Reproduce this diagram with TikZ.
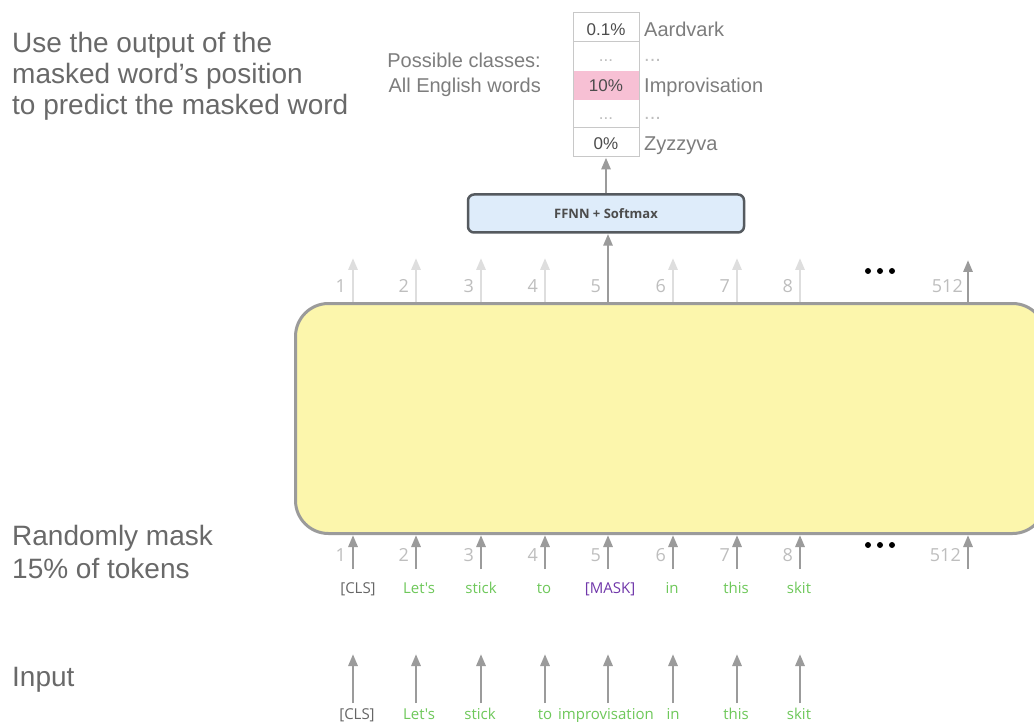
\documentclass[tikz,border=0pt]{standalone}
\usepackage{fontspec}
\setmainfont{Liberation Sans}
\newfontfamily\tokfont{Open Sans}
\usetikzlibrary{arrows.meta}
\definecolor{bigtxt}{RGB}{105,105,105}
\definecolor{midtxt}{RGB}{125,125,125}
\definecolor{arrgray}{RGB}{155,155,155}
\definecolor{faintgray}{RGB}{222,222,222}
\definecolor{numgray}{RGB}{190,190,190}
\definecolor{tokgreen}{RGB}{110,200,90}
\definecolor{tokpurple}{RGB}{112,55,170}
\definecolor{pinkcell}{RGB}{247,192,212}
\definecolor{boxyellow}{RGB}{252,246,172}
\definecolor{boxedge}{RGB}{155,155,155}
\definecolor{ffnnfill}{RGB}{222,236,250}
\definecolor{ffnnedge}{RGB}{85,90,95}
\definecolor{tbledge}{RGB}{200,200,200}
\begin{document}
\begin{tikzpicture}[x=1pt,y=-1pt,
  big/.style={font=\fontsize{28}{31}\selectfont, text=bigtxt, anchor=base west, inner sep=0pt, align=left},
  mid/.style={font=\fontsize{20}{25}\selectfont, text=midtxt, inner sep=0pt},
  pct/.style={font=\fontsize{17}{17}\selectfont, text=black!70, anchor=base, inner sep=0pt},
  arr/.style={draw=arrgray, line width=2.8pt, -{Triangle[width=9pt,length=12pt]}},
  faint/.style={arr, draw=faintgray},
  num/.style={font=\tokfont\fontsize{18}{18}\selectfont, text=numgray, anchor=base east, inner sep=0pt},
  tok/.style={font=\tokfont\fontsize{15}{15}\selectfont, anchor=base, inner sep=0pt},
  dot/.style={fill=black, draw=none}]
\useasboundingbox (0,0) rectangle (1034,722);
\clip (0,0) rectangle (1034,722);
\fill[white] (0,0) rectangle (1034,722);

% left texts
\node[big] (t1) at (12,53) {Use the output of the};
\node[big] (t2) at (12,84) {masked word's position};
\node[big] (t3) at (12,115) {to predict the masked word};
\node[big] (t4) at (12,545) {Randomly mask};
\node[big] (t5) at (12,578) {15\% of tokens};
\node[big] (t6) at (12,686) {Input};

% output table
\fill[pinkcell] (573,71) rectangle (639,100);
\node[draw=tbledge, line width=1pt, minimum width=66pt, minimum height=144pt, inner sep=0pt] (tbl) at (606,85) {};
\draw[tbledge, line width=1pt] (573,42) -- (639,42);
\draw[tbledge, line width=1pt] (573,128) -- (639,128);
\node[pct] (p1) at (606,36) {0.1\%};
\node[pct, text=numgray] (p2) at (606,62) {...};
\node[pct] (p3) at (606,92) {10\%};
\node[pct, text=numgray] (p4) at (606,120) {...};
\node[pct] (p5) at (606,150) {0\%};
\node[mid, anchor=base west] (w1) at (644,37) {Aardvark};
\node[mid, anchor=base west, text=numgray] (w2) at (644,62) {...};
\node[mid, anchor=base west] (w3) at (644,93) {Improvisation};
\node[mid, anchor=base west, text=numgray] (w4) at (644,120) {...};
\node[mid, anchor=base west] (w5) at (644,151) {Zyzzyva};
\node[mid, anchor=base east, align=right] (pc) at (541,68) {Possible classes:};
\node[mid, anchor=base east, align=right] (ae) at (541,93) {All English words};

% FFNN
\node[draw=ffnnedge, fill=ffnnfill, line width=2.5pt, rounded corners=6pt,
      minimum width=276pt, minimum height=38pt, inner sep=0pt,
      font=\tokfont\bfseries\fontsize{13}{13}\selectfont, text=black!70] (ffnn) at (606,213.5) {FFNN + Softmax};
\draw[arr] (ffnn.north) -- (tbl.south);

% encoder box
\node[draw=boxedge, fill=boxyellow, line width=3pt, rounded corners=33pt,
      minimum width=750pt, minimum height=230pt, inner sep=0pt, anchor=north west] (enc) at (294,302) {};

% columns
\foreach \i/\x/\lab in {1/353/1,2/416/2,3/481/3,4/545/4,6/673/6,7/737/7,8/800/8}{
  \coordinate (top\i) at (\x,258);
  \draw[faint] (enc.north -| top\i) -- (top\i);
  \node[num] (tn\i) at (\x-7,292) {\lab};
}
\coordinate (top5) at (608,259);
\draw[arr] (enc.north -| top5) -- (ffnn.south -| top5);
\node[num] (tn5) at (608-7,292) {5};
\coordinate (top9) at (968,260);
\draw[arr] (enc.north -| top9) -- (top9);
\node[num] (tn9) at (968-5,292) {512};

\foreach \i/\x/\lab in {1/353/1,2/416/2,3/481/3,4/545/4,5/608/5,6/673/6,7/737/7,8/800/8,9/968/512}{
  \coordinate (bot\i) at (\x,569);
  \draw[arr] (bot\i) -- (enc.south -| bot\i);
  \node[num] (bn\i) at (\x-7,561) {\lab};
}

% ellipses
\foreach \y/\n in {271/a,545/b}{
  \fill[dot] (868,\y) circle (3pt);
  \fill[dot] (880,\y) circle (3pt);
  \fill[dot] (892,\y) circle (3pt);
}

% masked tokens
\node[tok, text=black!60] (k1) at (358,593) {[CLS]};
\node[tok, text=tokgreen] (k2) at (419,593) {Let's};
\node[tok, text=tokgreen] (k3) at (481,593) {stick};
\node[tok, text=tokgreen] (k4) at (544,593) {to};
\node[tok, text=tokpurple] (k5) at (610,593) {[MASK]};
\node[tok, text=tokgreen] (k6) at (672,593) {in};
\node[tok, text=tokgreen] (k7) at (736,593) {this};
\node[tok, text=tokgreen] (k8) at (799,593) {skit};

% input arrows
\foreach \i/\x in {1/353,2/416,3/481,4/545,5/608,6/673,7/737,8/800}{
  \coordinate (ia\i) at (\x,703);
  \coordinate (ib\i) at (\x,654);
  \draw[arr] (ia\i) -- (ib\i);
}

% input tokens
\node[tok, text=black!60] (i1) at (357,719) {[CLS]};
\node[tok, text=tokgreen] (i2) at (419,719) {Let's};
\node[tok, text=tokgreen] (i3) at (480,719) {stick};
\node[tok, text=tokgreen] (i4) at (545,719) {to};
\node[tok, text=tokgreen] (i5) at (606,719) {improvisation};
\node[tok, text=tokgreen] (i6) at (673,719) {in};
\node[tok, text=tokgreen] (i7) at (736,719) {this};
\node[tok, text=tokgreen] (i8) at (799,719) {skit};
\end{tikzpicture}
\end{document}
